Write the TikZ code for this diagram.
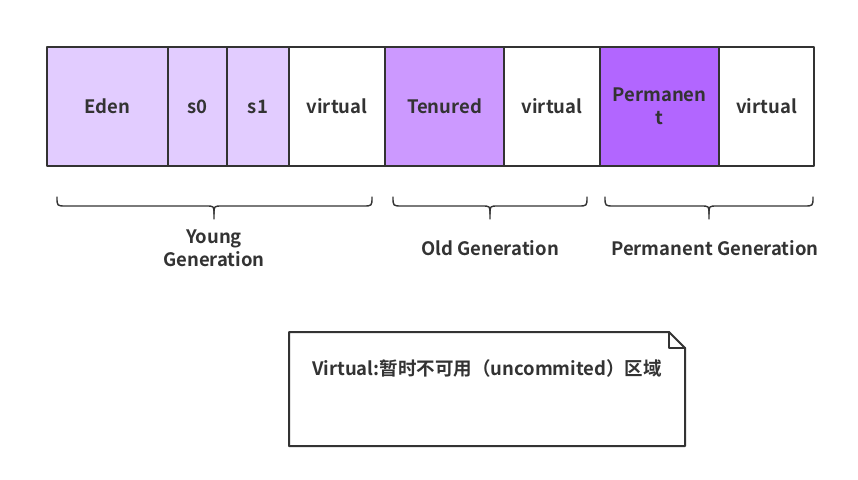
\documentclass[tikz,border=0pt]{standalone}
\usepackage{fontspec}
\setmainfont{Noto Sans CJK SC}[BoldFont={Noto Sans CJK SC Bold}]
\usetikzlibrary{positioning}
\definecolor{txt}{HTML}{333333}
\definecolor{young}{HTML}{E2CCFF}
\definecolor{old}{HTML}{CC99FF}
\definecolor{perm}{HTML}{B266FF}
\begin{document}
\begin{tikzpicture}[x=1pt,y=-1pt,line join=round,line cap=round]
		\tikzset{every node/.style={text=txt,font=\bfseries\fontsize{18.5}{23}\selectfont},
			cell/.style={draw=txt,line width=2pt,minimum height=119pt,inner sep=0pt,outer sep=0pt,align=center},
			brc/.style={draw=txt,line width=1.4pt}}
		\useasboundingbox (0,0) rectangle (858,479);
		% heap cells
		\node[cell,fill=young,minimum width=121pt,anchor=north west] (eden) at (47,47) {Eden};
		\node[cell,fill=young,minimum width=59pt,right=0pt of eden] (szero) {s0};
		\node[cell,fill=young,minimum width=62pt,right=0pt of szero] (sone) {s1};
		\node[cell,fill=white,minimum width=96pt,right=0pt of sone] (yvirt) {virtual};
		\node[cell,fill=old,minimum width=119pt,right=0pt of yvirt] (tenured) {Tenured};
		\node[cell,fill=white,minimum width=96pt,right=0pt of tenured] (ovirt) {virtual};
		\node[cell,fill=perm,minimum width=119pt,right=0pt of ovirt] (perm) {Permanen\\t};
		\node[cell,fill=white,minimum width=95pt,right=0pt of perm] (pvirt) {virtual};
		% generations
		\foreach \a/\b/\m/\l/\t [count=\i] in {57/372/214/214/{Young\\Generation},393/587/490/490/Old Generation,605/813/709/715/Permanent Generation}
		{
			\draw[brc] (\a,197) .. controls (\a,206) .. (\a+9,206) -- (\m-8,206) .. controls (\m,206) .. (\m,214) -- (\m,219);
			\draw[brc] (\b,197) .. controls (\b,206) .. (\b-9,206) -- (\m+8,206) .. controls (\m,206) .. (\m,214);
			\node[align=center] (gen\i) at (\l,248) {\t};
		}
		% note
		\draw[txt,line width=2pt] (289,332)--(669,332)--(685,348)--(685,446)--(289,446)--cycle;
		\draw[txt,line width=2pt] (669,332)--(669,348)--(685,348);
		\node (note) at (487,368) {Virtual:暂时不可用（uncommited）区域};
	\end{tikzpicture}
\end{document}
